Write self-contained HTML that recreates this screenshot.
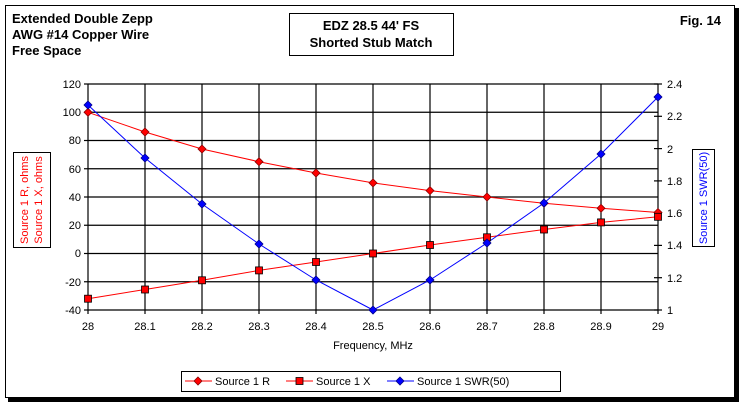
<!DOCTYPE html>
<html><head><meta charset="utf-8"><style>
html,body{margin:0;padding:0;background:#fff;}
svg{display:block;font-family:"Liberation Sans",Arial,sans-serif;}
</style></head><body>
<svg width="744" height="406" viewBox="0 0 744 406" xmlns="http://www.w3.org/2000/svg">
<rect x="0" y="0" width="744" height="406" fill="#fff"/>
<rect x="8" y="8" width="731" height="394" fill="#000"/>
<rect x="5.5" y="5.5" width="729" height="392" fill="#fff" stroke="#000" stroke-width="1"/>
<g font-weight="bold" font-size="13" fill="#000">
<text x="12" y="23">Extended Double Zepp</text>
<text x="12" y="39">AWG #14 Copper Wire</text>
<text x="12" y="55">Free Space</text>
<text x="721" y="25" text-anchor="end">Fig. 14</text>
</g>
<rect x="289.5" y="13.5" width="164" height="42" fill="#fff" stroke="#000"/>
<g font-weight="bold" font-size="13" text-anchor="middle">
<text x="371" y="30">EDZ 28.5 44' FS</text>
<text x="371" y="47">Shorted Stub Match</text>
</g>
<!-- grid -->
<g stroke="#000" stroke-width="1.2" fill="none">
<line x1="88" y1="84" x2="658" y2="84"/>
<line x1="88" y1="112.25" x2="658" y2="112.25"/>
<line x1="88" y1="140.5" x2="658" y2="140.5"/>
<line x1="88" y1="168.75" x2="658" y2="168.75"/>
<line x1="88" y1="197" x2="658" y2="197"/>
<line x1="88" y1="225.25" x2="658" y2="225.25"/>
<line x1="88" y1="253.5" x2="658" y2="253.5"/>
<line x1="88" y1="281.75" x2="658" y2="281.75"/>
<line x1="88" y1="310" x2="658" y2="310"/>
<line x1="88" y1="84" x2="88" y2="314"/>
<line x1="145" y1="84" x2="145" y2="314"/>
<line x1="202" y1="84" x2="202" y2="314"/>
<line x1="259" y1="84" x2="259" y2="314"/>
<line x1="316" y1="84" x2="316" y2="314"/>
<line x1="373" y1="84" x2="373" y2="314"/>
<line x1="430" y1="84" x2="430" y2="314"/>
<line x1="487" y1="84" x2="487" y2="314"/>
<line x1="544" y1="84" x2="544" y2="314"/>
<line x1="601" y1="84" x2="601" y2="314"/>
<line x1="658" y1="84" x2="658" y2="314"/>
<line x1="84" y1="84" x2="88" y2="84"/><line x1="84" y1="112.25" x2="88" y2="112.25"/><line x1="84" y1="140.5" x2="88" y2="140.5"/><line x1="84" y1="168.75" x2="88" y2="168.75"/><line x1="84" y1="197" x2="88" y2="197"/><line x1="84" y1="225.25" x2="88" y2="225.25"/><line x1="84" y1="253.5" x2="88" y2="253.5"/><line x1="84" y1="281.75" x2="88" y2="281.75"/><line x1="84" y1="310" x2="88" y2="310"/>
<line x1="654" y1="84" x2="662" y2="84"/><line x1="654" y1="116.3" x2="662" y2="116.3"/><line x1="654" y1="148.6" x2="662" y2="148.6"/><line x1="654" y1="180.9" x2="662" y2="180.9"/><line x1="654" y1="213.1" x2="662" y2="213.1"/><line x1="654" y1="245.4" x2="662" y2="245.4"/><line x1="654" y1="277.7" x2="662" y2="277.7"/><line x1="654" y1="310" x2="662" y2="310"/>
</g>
<g font-size="11" text-anchor="end">
<text x="81" y="88">120</text><text x="81" y="116">100</text><text x="81" y="144">80</text><text x="81" y="173">60</text><text x="81" y="201">40</text><text x="81" y="229">20</text><text x="81" y="257">0</text><text x="81" y="286">-20</text><text x="81" y="314">-40</text>
</g>
<g font-size="11">
<text x="667" y="88">2.4</text><text x="667" y="120">2.2</text><text x="667" y="153">2</text><text x="667" y="185">1.8</text><text x="667" y="217">1.6</text><text x="667" y="249">1.4</text><text x="667" y="282">1.2</text><text x="667" y="314">1</text>
</g>
<g font-size="11" text-anchor="middle">
<text x="88" y="330">28</text><text x="145" y="330">28.1</text><text x="202" y="330">28.2</text><text x="259" y="330">28.3</text><text x="316" y="330">28.4</text><text x="373" y="330">28.5</text><text x="430" y="330">28.6</text><text x="487" y="330">28.7</text><text x="544" y="330">28.8</text><text x="601" y="330">28.9</text><text x="658" y="330">29</text>
<text x="373" y="349">Frequency, MHz</text>
</g>
<rect x="13.5" y="152.5" width="37" height="95" fill="#fff" stroke="#000"/>
<g font-size="11" fill="#f00" transform="translate(0,0)">
<text transform="translate(28,200) rotate(-90)" text-anchor="middle">Source 1 R, ohms</text>
<text transform="translate(42,200) rotate(-90)" text-anchor="middle">Source 1 X, ohms</text>
</g>
<rect x="692.5" y="149.5" width="22" height="97" fill="#fff" stroke="#000"/>
<text transform="translate(707,198) rotate(-90)" text-anchor="middle" font-size="11" fill="#00f">Source 1 SWR(50)</text>
<!-- series -->
<polyline fill="none" stroke="#f00" stroke-width="1" points="88,112.3 145,132 202,149 259,161.7 316,173 373,182.9 430,190.6 487,197 544,203.3 601,208.3 658,212.5"/>
<polyline fill="none" stroke="#f00" stroke-width="1" points="88,298.7 145,289.5 202,280.3 259,270.4 316,262 373,253.5 430,245 487,237.3 544,229.5 601,222.4 658,216.8"/>
<polyline fill="none" stroke="#00f" stroke-width="1" points="88,105 145,158 202,204 259,244 316,280 373,310 430,280 487,243 544,203 601,154 658,97"/>
<g fill="#f00" stroke="#800" stroke-width="0.8">
<path d="M88,108.3l4,4l-4,4l-4,-4z"/><path d="M145,128l4,4l-4,4l-4,-4z"/><path d="M202,145l4,4l-4,4l-4,-4z"/><path d="M259,157.7l4,4l-4,4l-4,-4z"/><path d="M316,169l4,4l-4,4l-4,-4z"/><path d="M373,178.9l4,4l-4,4l-4,-4z"/><path d="M430,186.6l4,4l-4,4l-4,-4z"/><path d="M487,193l4,4l-4,4l-4,-4z"/><path d="M544,199.3l4,4l-4,4l-4,-4z"/><path d="M601,204.3l4,4l-4,4l-4,-4z"/><path d="M658,208.5l4,4l-4,4l-4,-4z"/>
</g>
<g fill="#f00" stroke="#000" stroke-width="0.8">
<rect x="84.5" y="295.2" width="7" height="7"/><rect x="141.5" y="286" width="7" height="7"/><rect x="198.5" y="276.8" width="7" height="7"/><rect x="255.5" y="266.9" width="7" height="7"/><rect x="312.5" y="258.5" width="7" height="7"/><rect x="369.5" y="250" width="7" height="7"/><rect x="426.5" y="241.5" width="7" height="7"/><rect x="483.5" y="233.8" width="7" height="7"/><rect x="540.5" y="226" width="7" height="7"/><rect x="597.5" y="218.9" width="7" height="7"/><rect x="654.5" y="213.3" width="7" height="7"/>
</g>
<g fill="#00f" stroke="#008" stroke-width="0.8">
<path d="M88,101l4,4l-4,4l-4,-4z"/><path d="M145,154l4,4l-4,4l-4,-4z"/><path d="M202,200l4,4l-4,4l-4,-4z"/><path d="M259,240l4,4l-4,4l-4,-4z"/><path d="M316,276l4,4l-4,4l-4,-4z"/><path d="M373,306l4,4l-4,4l-4,-4z"/><path d="M430,276l4,4l-4,4l-4,-4z"/><path d="M487,239l4,4l-4,4l-4,-4z"/><path d="M544,199l4,4l-4,4l-4,-4z"/><path d="M601,150l4,4l-4,4l-4,-4z"/><path d="M658,93l4,4l-4,4l-4,-4z"/>
</g>
<!-- legend -->
<rect x="181.5" y="371.5" width="379" height="20" fill="#fff" stroke="#000"/>
<g stroke-width="1" font-size="11">
<line x1="185" y1="381" x2="212" y2="381" stroke="#f00"/>
<path d="M198,377l4,4l-4,4l-4,-4z" fill="#f00" stroke="#800" stroke-width="0.8"/>
<text x="215" y="385">Source 1 R</text>
<line x1="286" y1="381" x2="313" y2="381" stroke="#f00"/>
<rect x="296" y="377.5" width="7" height="7" fill="#f00" stroke="#000" stroke-width="0.8"/>
<text x="316" y="385">Source 1 X</text>
<line x1="387" y1="381" x2="414" y2="381" stroke="#00f"/>
<path d="M400,377l4,4l-4,4l-4,-4z" fill="#00f" stroke="#008" stroke-width="0.8"/>
<text x="417" y="385">Source 1 SWR(50)</text>
</g>
</svg>
</body></html>
